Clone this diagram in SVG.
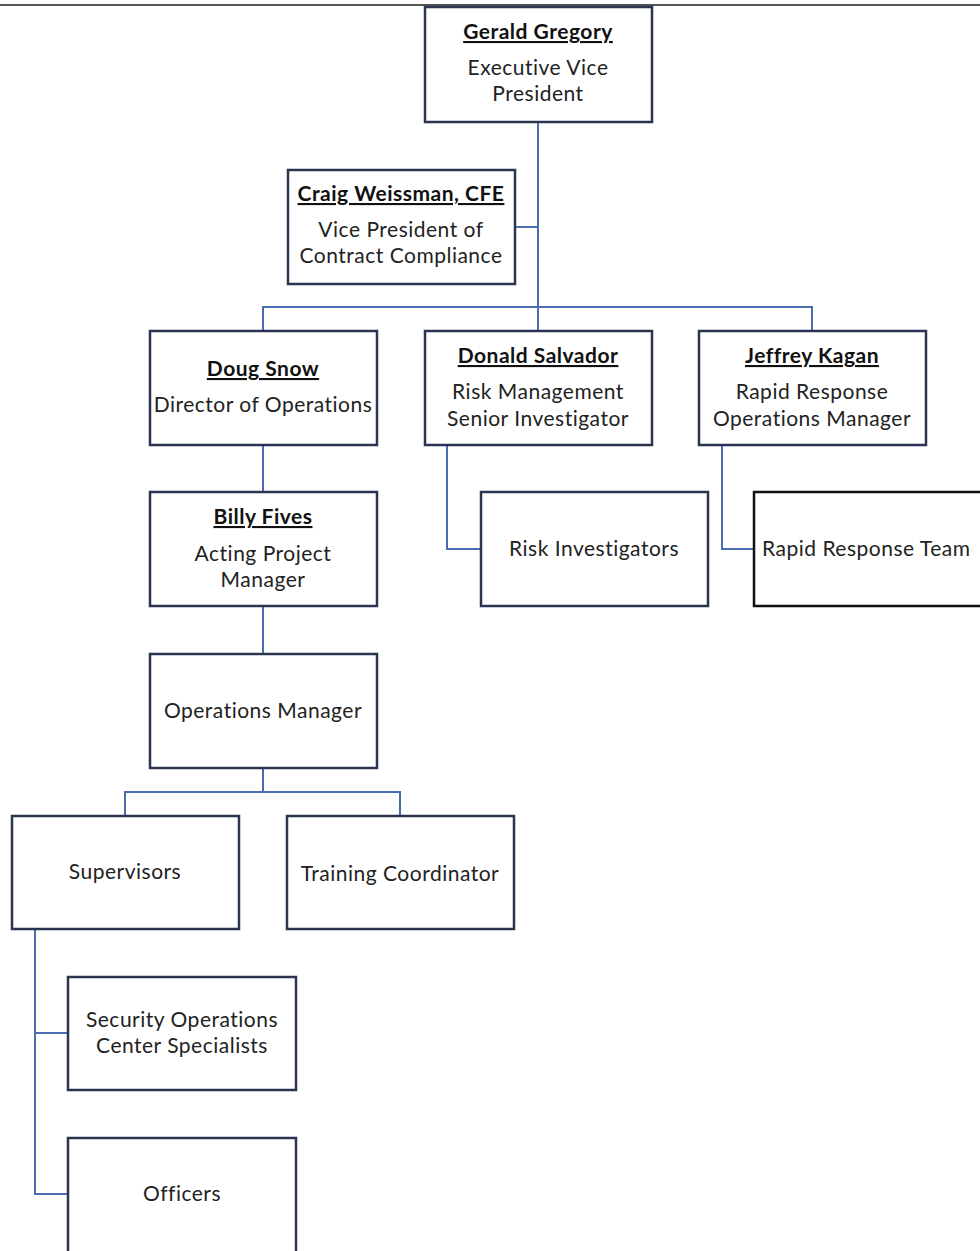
<svg xmlns="http://www.w3.org/2000/svg" width="980" height="1251" viewBox="0 0 980 1251">
<style>
.box{fill:#fff;stroke:#2b3450;stroke-width:2.5}
.box2{fill:#fff;stroke:#111;stroke-width:2.5}
.c{fill:none;stroke:#4a6cb0;stroke-width:2}
text{font-family:Lato,"Open Sans","Liberation Sans",sans-serif;font-size:21px;letter-spacing:0.5px;fill:#222;text-anchor:middle}
.n{font-weight:bold;text-decoration:underline;fill:#111}
</style>
<rect width="980" height="1251" fill="#fff"/>
<line x1="0" y1="5" x2="980" y2="5" stroke="#555" stroke-width="2"/>
<g id="connectors">
<path class="c" d="M538 122V331M515 227H538M263 331V307H812V331M263 445V492M263 606V654M263 768V792M125 816V792H400V816M35 929V1194H68M35 1033H68M447 445V549H481M722 445V549H754"/>
</g>
<g id="gerald"><rect class="box" x="425" y="7" width="227" height="115"/><text class="n" x="538" y="39">Gerald Gregory</text><text x="538" y="75">Executive Vice</text><text x="538" y="101">President</text></g>
<g id="craig"><rect class="box" x="288" y="170" width="227" height="114"/><text class="n" x="401" y="201">Craig Weissman, CFE</text><text x="401" y="237">Vice President of</text><text x="401" y="263">Contract Compliance</text></g>
<g id="doug"><rect class="box" x="150" y="331" width="227" height="114"/><text class="n" x="263" y="376">Doug Snow</text><text x="263" y="412">Director of Operations</text></g>
<g id="donald"><rect class="box" x="425" y="331" width="227" height="114"/><text class="n" x="538" y="363">Donald Salvador</text><text x="538" y="399">Risk Management</text><text x="538" y="426">Senior Investigator</text></g>
<g id="jeffrey"><rect class="box" x="699" y="331" width="227" height="114"/><text class="n" x="812" y="363">Jeffrey Kagan</text><text x="812" y="399">Rapid Response</text><text x="812" y="426">Operations Manager</text></g>
<g id="billy"><rect class="box" x="150" y="492" width="227" height="114"/><text class="n" x="263" y="524">Billy Fives</text><text x="263" y="561">Acting Project</text><text x="263" y="587">Manager</text></g>
<g id="risk"><rect class="box" x="481" y="492" width="227" height="114"/><text x="594" y="556">Risk Investigators</text></g>
<g id="rapid"><rect class="box2" x="754" y="492" width="240" height="114"/><text x="762" y="556" style="text-anchor:start">Rapid Response Team</text></g>
<g id="opsmgr"><rect class="box" x="150" y="654" width="227" height="114"/><text x="263" y="718">Operations Manager</text></g>
<g id="supervisors"><rect class="box" x="12" y="816" width="227" height="113"/><text x="125" y="879">Supervisors</text></g>
<g id="training"><rect class="box" x="287" y="816" width="227" height="113"/><text x="400" y="881">Training Coordinator</text></g>
<g id="soc"><rect class="box" x="68" y="977" width="228" height="113"/><text x="182" y="1027">Security Operations</text><text x="182" y="1053">Center Specialists</text></g>
<g id="officers"><rect class="box" x="68" y="1138" width="228" height="120"/><text x="182" y="1201">Officers</text></g>
</svg>
